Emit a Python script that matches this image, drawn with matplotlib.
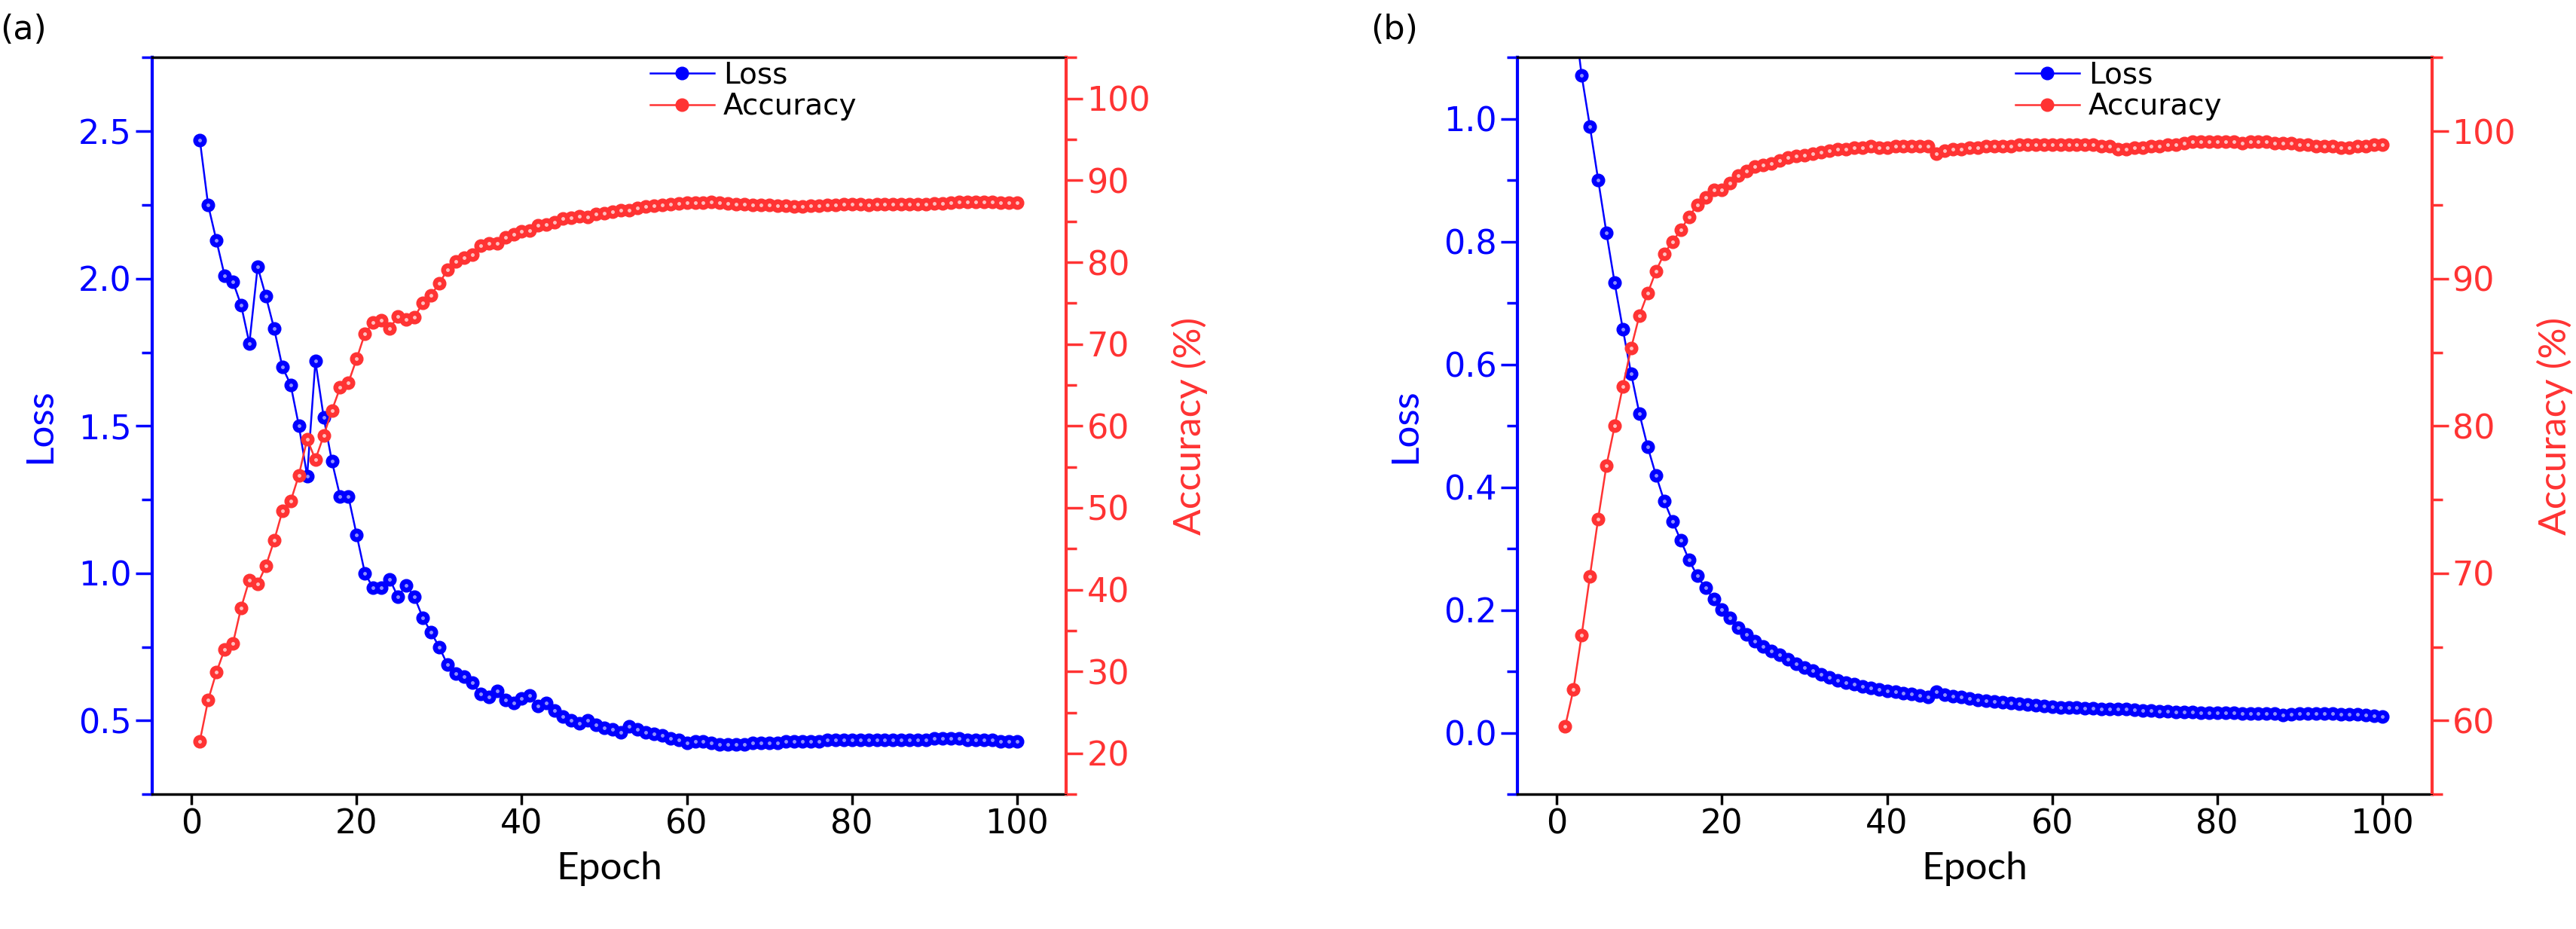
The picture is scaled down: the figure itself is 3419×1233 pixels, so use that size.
import numpy as np
import matplotlib
matplotlib.use("Agg")
import matplotlib.pyplot as plt
from matplotlib.ticker import MultipleLocator

epochs = np.arange(1, 101)

loss_a = [2.47, 2.25, 2.13, 2.01, 1.99, 1.91, 1.78, 2.04, 1.94, 1.83,
          1.70, 1.64, 1.50, 1.33, 1.72, 1.53, 1.38, 1.26, 1.26, 1.13,
          1.00, 0.95, 0.95, 0.98, 0.92, 0.96, 0.92, 0.85, 0.80, 0.75,
          0.69, 0.66, 0.65, 0.63, 0.59, 0.58, 0.60, 0.57, 0.56, 0.575,
          0.585, 0.55, 0.56, 0.535, 0.515, 0.50, 0.49, 0.50, 0.485, 0.475,
          0.47, 0.46, 0.48, 0.47, 0.46, 0.455, 0.45, 0.44, 0.435, 0.425,
          0.43, 0.43, 0.425, 0.42, 0.42, 0.42, 0.42, 0.425, 0.425, 0.425,
          0.425, 0.43, 0.43, 0.43, 0.43, 0.43, 0.435, 0.435, 0.435, 0.435,
          0.435, 0.435, 0.435, 0.435, 0.435, 0.435, 0.435, 0.435, 0.435, 0.44,
          0.44, 0.44, 0.44, 0.435, 0.435, 0.435, 0.435, 0.43, 0.43, 0.43]

acc_a = [21.5, 26.5, 29.9, 32.7, 33.4, 37.8, 41.2, 40.7, 42.9, 46.0,
         49.6, 50.8, 54.0, 58.4, 55.9, 58.8, 61.9, 64.7, 65.3, 68.2,
         71.3, 72.6, 72.9, 71.9, 73.4, 73.0, 73.3, 75.0, 76.0, 77.4,
         79.1, 80.1, 80.6, 80.9, 82.0, 82.3, 82.3, 83.0, 83.4, 83.8,
         83.9, 84.5, 84.6, 84.9, 85.3, 85.4, 85.6, 85.5, 85.9, 86.0,
         86.2, 86.4, 86.4, 86.6, 86.8, 86.9, 87.0, 87.1, 87.2, 87.3,
         87.3, 87.3, 87.4, 87.3, 87.2, 87.1, 87.1, 87.0, 87.0, 87.0,
         86.9, 86.9, 86.8, 86.8, 86.9, 86.9, 87.0, 87.0, 87.1, 87.1,
         87.1, 87.0, 87.1, 87.1, 87.1, 87.1, 87.1, 87.1, 87.1, 87.2,
         87.2, 87.3, 87.4, 87.4, 87.4, 87.4, 87.4, 87.3, 87.3, 87.3]

loss_b = [1.30, 1.18, 1.071, 0.988, 0.901, 0.815, 0.733, 0.657, 0.585, 0.520,
          0.466, 0.420, 0.378, 0.345, 0.314, 0.282, 0.256, 0.236, 0.218, 0.201,
          0.187, 0.172, 0.160, 0.150, 0.141, 0.134, 0.127, 0.120, 0.113, 0.107,
          0.101, 0.096, 0.091, 0.086, 0.082, 0.079, 0.076, 0.073, 0.071, 0.069,
          0.067, 0.065, 0.063, 0.061, 0.059, 0.067, 0.062, 0.060, 0.058, 0.056,
          0.054, 0.052, 0.051, 0.050, 0.049, 0.047, 0.046, 0.045, 0.044, 0.043,
          0.042, 0.041, 0.041, 0.040, 0.040, 0.039, 0.039, 0.039, 0.039, 0.038,
          0.037, 0.036, 0.035, 0.035, 0.034, 0.034, 0.034, 0.033, 0.033, 0.033,
          0.033, 0.033, 0.032, 0.032, 0.032, 0.031, 0.031, 0.029, 0.030, 0.032,
          0.032, 0.032, 0.031, 0.031, 0.030, 0.030, 0.030, 0.029, 0.028, 0.027]

acc_b = [59.6, 62.1, 65.8, 69.8, 73.7, 77.3, 80.0, 82.7, 85.3, 87.5,
         89.0, 90.5, 91.7, 92.5, 93.3, 94.2, 95.0, 95.5, 96.0, 96.0,
         96.5, 97.0, 97.3, 97.6, 97.7, 97.8, 98.0, 98.2, 98.3, 98.4,
         98.5, 98.6, 98.7, 98.8, 98.8, 98.9, 98.9, 99.0, 98.9, 98.9,
         99.0, 99.0, 99.0, 99.0, 99.0, 98.5, 98.7, 98.8, 98.8, 98.9,
         98.9, 99.0, 99.0, 99.0, 99.0, 99.1, 99.1, 99.1, 99.1, 99.1,
         99.1, 99.1, 99.1, 99.1, 99.1, 99.0, 99.0, 98.8, 98.8, 98.9,
         98.9, 99.0, 99.0, 99.1, 99.1, 99.2, 99.3, 99.3, 99.3, 99.3,
         99.3, 99.3, 99.2, 99.3, 99.3, 99.3, 99.2, 99.2, 99.2, 99.1,
         99.1, 99.0, 99.0, 99.0, 98.9, 98.9, 99.0, 99.0, 99.1, 99.1]

BLUE = "#0000ff"
RED = "#ff3333"
LABEL_FONT = ["Lato", "DejaVu Sans"]

fig = plt.figure(figsize=(34.19, 12.33), dpi=100)


def panel(rect, loss, acc, loss_lim, loss_step, acc_lim, tag, tag_x):
    ax = fig.add_axes(rect)
    ax2 = ax.twinx()
    l1, = ax.plot(epochs, loss, "-o", color=BLUE, lw=1.8, ms=12, mec=BLUE, label="Loss")
    ax.plot(epochs, loss, "o", color="#9090ff", ms=2.5, zorder=3)
    l2, = ax2.plot(epochs, acc, "-o", color=RED, lw=1.8, ms=12, mec=RED, label="Accuracy")
    ax2.plot(epochs, acc, "o", color="#ffc0c0", ms=2.5, zorder=3)

    ax.set_xlim(-4.8, 106)
    ax.set_ylim(*loss_lim)
    ax2.set_ylim(*acc_lim)
    ax.xaxis.set_major_locator(MultipleLocator(20))
    ax.yaxis.set_major_locator(MultipleLocator(loss_step))
    ax.yaxis.set_minor_locator(MultipleLocator(loss_step / 2))
    ax2.yaxis.set_major_locator(MultipleLocator(10))
    ax2.yaxis.set_minor_locator(MultipleLocator(5))

    ax.spines["left"].set_color(BLUE)
    ax.spines["left"].set_linewidth(3)
    ax2.spines["right"].set_color(RED)
    ax2.spines["right"].set_linewidth(3)
    ax2.spines["left"].set_visible(False)
    for s in ("top", "bottom"):
        ax.spines[s].set_linewidth(2.5)

    ax.tick_params(axis="x", labelsize=32, length=10, width=2.5)
    ax.tick_params(axis="y", which="major", colors=BLUE, labelsize=32, length=16, width=2.5)
    ax.tick_params(axis="y", which="minor", colors=BLUE, length=10, width=2.5)
    ax2.tick_params(axis="y", which="major", colors=RED, labelsize=32, length=16, width=2.5)
    ax2.tick_params(axis="y", which="minor", colors=RED, length=10, width=2.5)

    ax.set_xlabel("Epoch", fontsize=37, family=LABEL_FONT, labelpad=10)
    ax.set_ylabel("Loss", fontsize=37, color=BLUE, family=LABEL_FONT, labelpad=20)
    ax2.set_ylabel("Accuracy (%)", fontsize=37, color=RED, family=LABEL_FONT, labelpad=20)

    ax.legend([l1, l2], ["Loss", "Accuracy"], loc="upper right", bbox_to_anchor=(0.79, 1.02),
              frameon=False, fontsize=28, handlelength=2.2, borderaxespad=0.2,
              labelspacing=0.1, handletextpad=0.3)
    fig.text(tag_x, 0.985, tag, fontsize=32, va="top", ha="left")


panel([0.059, 0.145, 0.355, 0.793], loss_a, acc_a, (0.25, 2.75), 0.5, (15, 105), "(a)", 0.0)
panel([0.589, 0.145, 0.355, 0.793], loss_b, acc_b, (-0.1, 1.1), 0.2, (55, 105), "(b)", 0.532)

fig.savefig("out.png", dpi=100)
